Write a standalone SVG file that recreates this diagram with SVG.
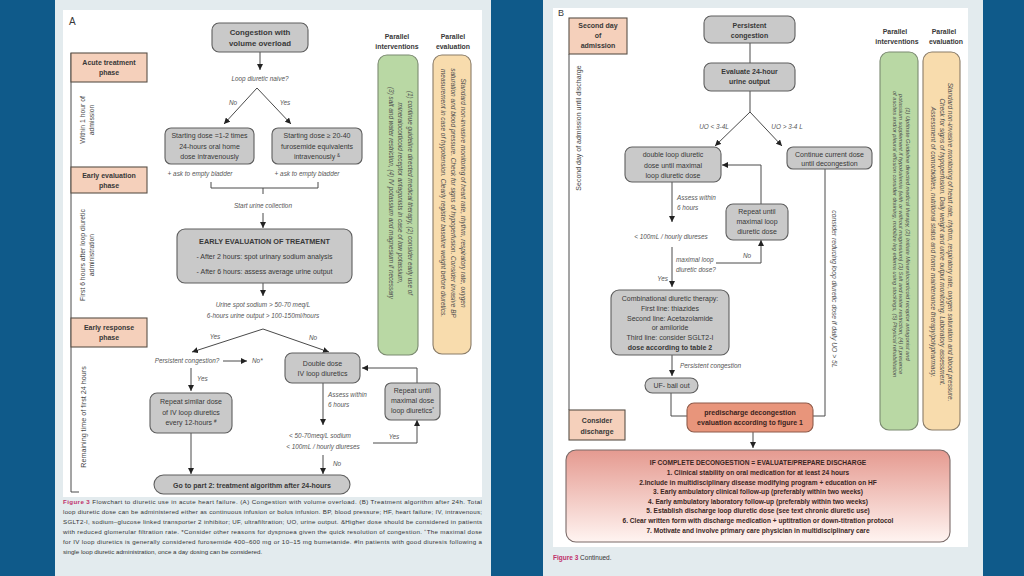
<svg xmlns="http://www.w3.org/2000/svg" width="1024" height="576" viewBox="0 0 1024 576">
<defs>
<style>
.t{font-family:"Liberation Sans",Arial,sans-serif;fill:#383838;font-size:7px;text-anchor:middle}
.s{text-anchor:start}
.b{font-weight:bold}
.i{font-style:italic;fill:#555;font-size:6.4px}
.tl{font-size:6.8px;fill:#444}
.box{fill:#c9c9c9;stroke:#5e5e5e;stroke-width:1.1}
.ph{fill:#f5d0bb;stroke:#5a5048;stroke-width:1.1}
.ln{fill:none;stroke:#4a4a4a;stroke-width:1}
.ar{marker-end:url(#ah)}
.gr{fill:#b9d8a4;stroke:#7b8a70;stroke-width:1.1}
.or{fill:#f8dcad;stroke:#8a7c68;stroke-width:1.1}
.pt{font-style:italic;fill:#4e4e4e}
.cap{font-size:6.2px;text-anchor:start;fill:#333}
.big{font-weight:bold;font-size:6.6px;fill:#3a2622}
</style>
<marker id="ah" viewBox="0 0 8 8" refX="8" refY="4" markerWidth="6" markerHeight="6" orient="auto" markerUnits="userSpaceOnUse"><path d="M0,0 L8,4 L0,8 z" fill="#222"/></marker>
<linearGradient id="pk" x1="0" y1="0" x2="0" y2="1"><stop offset="0" stop-color="#e59a90"/><stop offset="1" stop-color="#fff4f1"/></linearGradient>
</defs>

<rect width="1024" height="576" fill="#0f5a8a"/>
<rect x="55" y="0" width="436" height="576" fill="#e3ebee"/>
<rect x="63" y="10" width="419" height="487" fill="#ffffff"/>
<rect x="543" y="0" width="440" height="576" fill="#e3ebee"/>
<rect x="553" y="8" width="415" height="539" fill="#ffffff"/>

<!-- ============ PANEL A ============ -->
<text x="69" y="25" class="t s" style="font-size:10px">A</text>

<g id="connectors-A">
<path class="ln" d="M71,53 V492 H79"/>
<path class="ln ar" d="M260,52 V70"/>
<path class="ln ar" d="M257,88 L224,124"/>
<path class="ln ar" d="M257,88 L291,124"/>
<path class="ln" d="M211,182 V188 H318 V182 M263,188 V194"/>
<path class="ln ar" d="M263,213 V228"/>
<path class="ln ar" d="M263,283 V296"/>
<path class="ln ar" d="M263,329 L192,352"/>
<path class="ln ar" d="M263,329 L329,352"/>
<path class="ln ar" d="M223,361 H247"/>
<path class="ln ar" d="M191,368 V391"/>
<path class="ln ar" d="M191,433 V474"/>
<path class="ln ar" d="M323,383 V425"/>
<path class="ln ar" d="M373,443 H417 V420"/>
<path class="ln ar" d="M417,383 V368 H362"/>
<path class="ln ar" d="M323,455 V474"/>
</g>

<g id="labels-A">
<text x="260" y="81" class="t i">Loop diuretic naive?</text>
<text x="233" y="105" class="t i">No</text>
<text x="285" y="105" class="t i">Yes</text>
<text x="200" y="176" class="t i">+ ask to empty bladder</text>
<text x="307" y="176" class="t i">+ ask to empty bladder</text>
<text x="263" y="208" class="t i">Start urine collection</text>
<text x="263" y="307" class="t i">Urine spot sodium &gt; 50-70 meq/L</text>
<text x="263" y="318" class="t i">6-hours urine output &gt; 100-150ml/hours</text>
<text x="215" y="339" class="t i">Yes</text>
<text x="313" y="340" class="t i">No</text>
<text x="187" y="363" class="t i">Persistent congestion?</text>
<text x="252" y="363" class="t i s">No*</text>
<text x="197" y="381" class="t i s">Yes</text>
<text x="328" y="397" class="t i s">Assess within</text>
<text x="328" y="407" class="t i s">6 hours</text>
<text x="320" y="438" class="t i">&lt; 50-70meq/L sodium</text>
<text x="323" y="449" class="t i">&lt; 100mL / hourly diureses</text>
<text x="394" y="439" class="t i">Yes</text>
<text x="333" y="466" class="t i s">No</text>
</g>

<g id="phase-acute">
<rect class="ph" x="71" y="53" width="76" height="29"/>
<text class="t b" x="109" y="65">Acute treatment</text>
<text class="t b" x="109" y="75">phase</text>
</g>
<g id="phase-early-eval">
<rect class="ph" x="71" y="167" width="76" height="26"/>
<text class="t b" x="109" y="178">Early evaluation</text>
<text class="t b" x="109" y="188">phase</text>
</g>
<g id="phase-early-resp">
<rect class="ph" x="71" y="318" width="76" height="29"/>
<text class="t b" x="109" y="330">Early response</text>
<text class="t b" x="109" y="340">phase</text>
</g>
<g id="time-A">
<text class="t tl" transform="translate(85,120) rotate(-90)"><tspan x="0" y="0">Within 1 hour of</tspan><tspan x="0" y="9">admission</tspan></text>
<text class="t tl" transform="translate(85,255) rotate(-90)"><tspan x="0" y="0">First 6 hours after loop diuretic</tspan><tspan x="0" y="9">administration</tspan></text>
<text class="t tl" transform="translate(86,417) rotate(-90)" style="font-size:7.2px">Remaining time of first 24 hours</text>
</g>

<g id="n-congestion">
<rect class="box" x="212" y="23" width="96" height="29" rx="7"/>
<text class="t b" x="260" y="35" style="font-size:7.8px">Congestion with</text>
<text class="t b" x="260" y="45.5" style="font-size:7.8px">volume overload</text>
</g>
<g id="n-start-no">
<rect class="box" x="165" y="128" width="89" height="36" rx="6"/>
<text class="t" x="209.5" y="138">Starting dose =1-2 times</text>
<text class="t" x="209.5" y="148.5">24-hours oral home</text>
<text class="t" x="209.5" y="159">dose intravenously</text>
</g>
<g id="n-start-yes">
<rect class="box" x="272" y="128" width="90" height="36" rx="6"/>
<text class="t" x="317" y="138">Starting dose ≥ 20-40</text>
<text class="t" x="317" y="148.5">furosemide equivalents</text>
<text class="t" x="317" y="159">intravenously <tspan font-size="4.5" dy="-2.5">&amp;</tspan></text>
</g>
<g id="n-early-eval">
<rect class="box" x="177" y="229" width="175" height="54" rx="8"/>
<text class="t b" x="264.5" y="244" style="font-size:7.3px">EARLY EVALUATION OF TREATMENT</text>
<text class="t" x="264.5" y="259">- After 2 hours: spot urinary sodium analysis</text>
<text class="t" x="264.5" y="274">- After 6 hours: assess average urine output</text>
</g>
<g id="n-repeat-similar">
<rect class="box" x="150" y="393" width="82" height="40" rx="7"/>
<text class="t" x="191" y="404">Repeat similar dose</text>
<text class="t" x="191" y="414.5">of IV loop diuretics</text>
<text class="t" x="191" y="425">every 12-hours <tspan font-size="4.5" dy="-2.5">#</tspan></text>
</g>
<g id="n-double">
<rect class="box" x="285" y="353" width="75" height="30" rx="7"/>
<text class="t" x="322.5" y="365.5">Double dose</text>
<text class="t" x="322.5" y="376">IV loop diuretics</text>
</g>
<g id="n-repeat-max">
<rect class="box" x="385" y="383" width="55" height="37" rx="6"/>
<text class="t" x="412.5" y="393">Repeat until</text>
<text class="t" x="412.5" y="403">maximal dose</text>
<text class="t" x="412.5" y="413">loop diuretics<tspan font-size="4.5" dy="-2.5">*</tspan></text>
</g>
<g id="n-part2">
<rect class="box" x="154" y="475" width="196" height="19" rx="9.5"/>
<text class="t b" x="252" y="487.5">Go to part 2:  treatment algorithm after 24-hours</text>
</g>

<g id="parallel-A">
<text class="t b" x="397" y="39" style="font-size:6.9px">Parallel</text>
<text class="t b" x="397" y="49" style="font-size:6.9px">interventions</text>
<text class="t b" x="453" y="39" style="font-size:6.9px">Parallel</text>
<text class="t b" x="453" y="49" style="font-size:6.9px">evaluation</text>
<rect class="gr" x="378" y="55" width="40" height="300" rx="9"/>
<rect class="or" x="433" y="55" width="38" height="299" rx="9"/>
<text class="t pt" style="font-size:6.4px" transform="translate(407.5,193) rotate(90)"><tspan x="0" y="0">(1) continue guideline directed medical therapy, (2) consider early use of</tspan><tspan x="0" y="9.5">mineralocorticoid receptor antagonists in case of low potassium,</tspan><tspan x="0" y="19">(3) salt and water restriction, (4) IV potassium and magnesium if necessary</tspan></text>
<text class="t pt" style="font-size:6.5px" transform="translate(461,193) rotate(90)"><tspan x="0" y="0">Standard non-invasive monitoring of heart rate, rhythm, respiratory rate, oxygen</tspan><tspan x="0" y="10">saturation and blood pressure. Check for signs of hypoperfusion. Consider invasive BP</tspan><tspan x="0" y="20">measurement in case of hypotension. Clearly register baseline weight before diuretics.</tspan></text>
</g>

<g id="caption-A">
<text class="t cap" x="63" y="504" textLength="419" lengthAdjust="spacing"><tspan fill="#c0306a" font-weight="bold">Figure 3</tspan>  Flowchart to diuretic use in acute heart failure. (A) Congestion with volume overload. (B) Treatment algorithm after 24h. Total</text>
<text class="t cap" x="63" y="514" textLength="419" lengthAdjust="spacing">loop diuretic dose can be administered either as continuous infusion or bolus infusion. BP, blood pressure; HF, heart failure; IV, intravenous;</text>
<text class="t cap" x="63" y="524" textLength="419" lengthAdjust="spacing">SGLT2-I, sodium–glucose linked transporter 2 inhibitor; UF, ultrafiltration; UO, urine output. &amp;Higher dose should be considered in patients</text>
<text class="t cap" x="63" y="534" textLength="419" lengthAdjust="spacing">with reduced glomerular filtration rate. *Consider other reasons for dyspnoea given the quick resolution of congestion. ⁺The maximal dose</text>
<text class="t cap" x="63" y="544" textLength="419" lengthAdjust="spacing">for IV loop diuretics is generally considered furosemide 400–600 mg or 10–15 mg bumetanide. #In patients with good diuresis following a</text>
<text class="t cap" x="63" y="554">single loop diuretic administration, once a day dosing can be considered.</text>
</g>

<!-- ============ PANEL B ============ -->
<text x="558" y="16" class="t s" style="font-size:9px">B</text>

<g id="connectors-B">
<path class="ln" d="M569,54 V410"/>
<path class="ln" d="M750,43 V63"/>
<path class="ln" d="M750,91 V112"/>
<path class="ln ar" d="M750,112 L715,146"/>
<path class="ln ar" d="M750,112 L782,146"/>
<path class="ln" d="M825,168 V416 H813"/>
<path class="ln ar" d="M672,182 V222"/>
<path class="ln ar" d="M672,247 V287"/>
<path class="ln ar" d="M716,263 H761 V240"/>
<path class="ln ar" d="M761,204 V165 H722"/>
<path class="ln ar" d="M672,355 V376"/>
<path class="ln" d="M671,393 V416 H687"/>
<path class="ln ar" d="M753,432 V448"/>
</g>

<g id="labels-B">
<text x="714" y="129" class="t i">UO &lt; 3-4L</text>
<text x="787" y="129" class="t i">UO &gt; 3-4 L</text>
<text x="677" y="200" class="t i s">Assess within</text>
<text x="677" y="209.5" class="t i s">6 hours</text>
<text x="671" y="238.5" class="t i">&lt; 100mL / hourly diureses</text>
<text x="676" y="262" class="t i s">maximal loop</text>
<text x="676" y="272" class="t i s">diuretic dose?</text>
<text x="668" y="281" class="t i" style="text-anchor:end">Yes</text>
<text x="747" y="258" class="t i">No</text>
<text x="680" y="368" class="t i s">Persistent congestion</text>
<text class="t i" style="font-size:6.8px" transform="translate(832,289) rotate(90)">consider reducing loop diuretic dose if daily UO &gt; 5L</text>
</g>

<g id="phase-second-day">
<rect class="ph" x="569" y="18" width="58" height="36"/>
<text class="t b" x="598" y="28">Second day</text>
<text class="t b" x="598" y="38">of</text>
<text class="t b" x="598" y="48">admission</text>
</g>
<g id="phase-discharge">
<rect class="ph" x="569" y="410" width="56" height="30"/>
<text class="t b" x="597" y="423">Consider</text>
<text class="t b" x="597" y="434">discharge</text>
</g>
<g id="time-B">
<text class="t tl" style="font-size:7px" transform="translate(581,128) rotate(-90)">Second day of admission until discharge</text>
</g>

<g id="n-persistent">
<rect class="box" x="704" y="16" width="91" height="27" rx="7"/>
<text class="t b" x="749.5" y="27.5">Persistent</text>
<text class="t b" x="749.5" y="37.5">congestion</text>
</g>
<g id="n-evaluate">
<rect class="box" x="704" y="63" width="91" height="28" rx="7"/>
<text class="t b" x="749.5" y="74">Evaluate 24-hour</text>
<text class="t b" x="749.5" y="84">urine output</text>
</g>
<g id="n-double-loop">
<rect class="box" x="625" y="147" width="96" height="35" rx="7"/>
<text class="t" x="673" y="157">double loop diuretic</text>
<text class="t" x="673" y="167.5">dose until  maximal</text>
<text class="t" x="673" y="178">loop diuretic dose</text>
</g>
<g id="n-continue">
<rect class="box" x="787" y="147" width="85" height="22" rx="6"/>
<text class="t" x="829.5" y="156.5">Continue current dose</text>
<text class="t" x="829.5" y="165.5">until decongestion</text>
</g>
<g id="n-repeat-loop">
<rect class="box" x="726" y="204" width="62" height="36" rx="7"/>
<text class="t" x="757" y="214">Repeat until</text>
<text class="t" x="757" y="224">maximal loop</text>
<text class="t" x="757" y="234">diuretic dose</text>
</g>
<g id="n-combination">
<rect class="box" x="611" y="290" width="118" height="65" rx="8"/>
<text class="t" x="670" y="300.5">Combinational diuretic therapy:</text>
<text class="t" x="670" y="310.5">First line: thiazides</text>
<text class="t" x="670" y="320.5">Second line: Acetazolamide</text>
<text class="t" x="670" y="330">or amiloride</text>
<text class="t" x="670" y="339.5">Third line: consider SGLT2-I</text>
<text class="t b" x="670" y="349.5">dose according to table 2</text>
</g>
<g id="n-uf">
<rect class="box" x="645" y="378" width="53" height="15" rx="7.5"/>
<text class="t" x="671.5" y="388">UF- bail out</text>
</g>
<g id="n-predischarge">
<rect x="687" y="403" width="126" height="29" rx="7" fill="#e8957b" stroke="#8e5b4a" stroke-width="1.1"/>
<text class="t b" x="750" y="414.5" style="fill:#3a2420">predischarge decongestion</text>
<text class="t b" x="750" y="425" style="fill:#3a2420">evaluation according to figure 1</text>
</g>
<g id="n-discharge">
<rect x="566" y="450" width="384" height="92" rx="10" fill="url(#pk)" stroke="#7a6a68" stroke-width="1.1"/>
<text class="t big" x="758" y="464.5">IF COMPLETE DECONGESTION = EVALUATE/PREPARE DISCHARGE</text>
<text class="t big" x="758" y="475">1. Clinical stability on oral medication for at least 24 hours</text>
<text class="t big" x="758" y="484.5">2.Include in multidisciplinary disease modifying program + education on HF</text>
<text class="t big" x="758" y="494">3. Early ambulatory clinical follow-up (preferably within two weeks)</text>
<text class="t big" x="758" y="503.5">4. Early ambulatory laboratory follow-up (preferably within two weeks)</text>
<text class="t big" x="758" y="513">5. Establish discharge loop diuretic dose (see text chronic diuretic use)</text>
<text class="t big" x="758" y="523">6. Clear written form with discharge medication + uptitration or down-titration protocol</text>
<text class="t big" x="758" y="532.5">7. Motivate and involve primary care physician in multidisciplinary care</text>
</g>

<g id="parallel-B">
<text class="t b" x="895" y="34" style="font-size:6.9px">Parallel</text>
<text class="t b" x="897" y="44" style="font-size:6.9px">interventions</text>
<text class="t b" x="944" y="34" style="font-size:6.9px">Parallel</text>
<text class="t b" x="946" y="44" style="font-size:6.9px">evaluation</text>
<rect class="gr" x="880" y="52" width="38" height="378" rx="9"/>
<rect class="or" x="923" y="52" width="37" height="378" rx="9"/>
<text class="t pt" style="font-size:5.7px" transform="translate(906,234) rotate(90)"><tspan x="0" y="0">(1) Uptitrate Guideline directed medical therapy, (2) Initiate Mineralocorticoid receptor antagonist and</tspan><tspan x="0" y="6.6">potassium supplement if hypokalemia (with or without magnesium) (3) Salt and water restriction, (4) If presence</tspan><tspan x="0" y="13.2">of ascites and/or pleural effusion consider draining, mobilize leg edema using stockings, (5) Physical rehabilitation</tspan></text>
<text class="t pt" style="font-size:6.5px" transform="translate(948,242) rotate(90)"><tspan x="0" y="0">Standard non-invasive monitoring of heart rate, rhythm, respiratory rate, oxygen saturation and blood pressure.</tspan><tspan x="0" y="8.5">Check for signs of hypoperfusion. Daily weight and urine output monitoring. Laboratory assessment.</tspan><tspan x="0" y="17">Assessment of comorbidities, nutritional status and home maintenance therapy/polypharmacy.</tspan></text>
</g>

<text class="t cap" x="553" y="560" style="font-size:6.5px"><tspan fill="#c0306a" font-weight="bold">Figure 3</tspan>  Continued.</text>
</svg>
